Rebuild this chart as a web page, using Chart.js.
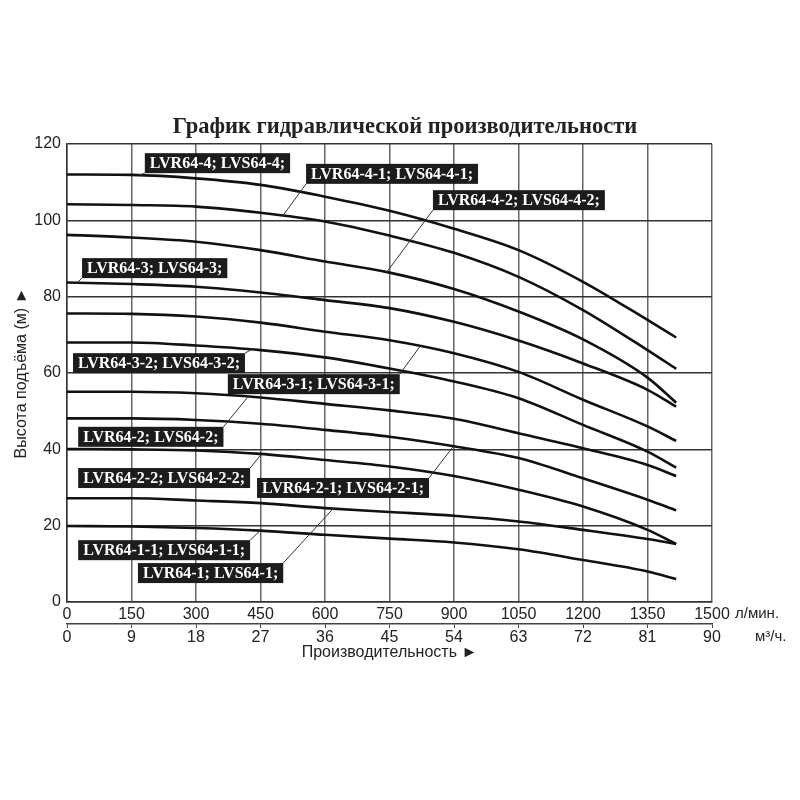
<!DOCTYPE html>
<html>
<head>
<meta charset="utf-8">
<script src="https://cdn.jsdelivr.net/npm/chart.js@4"></script>
<style>
  body { margin: 0; background: #fff; }
  #graf_hp { display: block; }
</style>
</head>
<body>
<canvas id="graf_hp" width="800" height="800"></canvas>
<script>
// Расход, л/мин (точки)
const flows = [0, 150, 300, 450, 600, 750, 900, 1050, 1200, 1350, 1416.7];

// Напор, м
const head_4   = [112, 111.9, 111, 109.3, 106.2, 102.5, 97.8, 92.2, 83.9, 73.9, 69.3];
const head_4_1 = [104.2, 104, 103.6, 102, 99.7, 96, 91.5, 85.2, 76.5, 66, 61.1];
const head_4_2 = [96.2, 95.5, 94.4, 92.2, 89.2, 86.3, 82, 76.1, 68.8, 58.8, 52.2];
const head_3   = [83.7, 83.3, 82.6, 81.1, 79.1, 77, 73.4, 68.5, 62.5, 55.6, 51.2];
const head_3_x = [75.6, 75.5, 74.8, 73.2, 70.8, 68.6, 65.2, 60.3, 53, 46, 42.2];
const head_3_2 = [68, 68, 67.2, 66, 64.1, 61.2, 57.8, 53.4, 46.4, 39.4, 35.2];
const head_3_1 = [55.1, 55.1, 54.7, 53.6, 51.9, 50.2, 48, 44.2, 40.3, 35.9, 33];
const head_2   = [48.1, 48.1, 47.7, 46.7, 45.1, 43.3, 40.8, 37.7, 32.4, 26.8, 24];
const head_2_2 = [40.1, 40, 39.7, 38.8, 37.2, 35.5, 33, 29.4, 25, 18.9, 15.2];
const head_2_1 = [27.2, 27.2, 26.6, 25.9, 24.6, 23.6, 22.6, 21.1, 18.9, 16.5, 15.2];
const head_1_1 = [19.9, 19.8, 19.4, 18.7, 17.6, 16.6, 15.6, 13.8, 11, 8, 6];

const curves = [head_4, head_4_1, head_4_2, head_3, head_3_x, head_3_2,
                head_3_1, head_2, head_2_2, head_2_1, head_1_1];

// Подписи моделей
const model_names = [
  'LVR64-4; LVS64-4;',
  'LVR64-4-1; LVS64-4-1;',
  'LVR64-4-2; LVS64-4-2;',
  'LVR64-3; LVS64-3;',
  'LVR64-3-2; LVS64-3-2;',
  'LVR64-3-1; LVS64-3-1;',
  'LVR64-2; LVS64-2;',
  'LVR64-2-2; LVS64-2-2;',
  'LVR64-2-1; LVS64-2-1;',
  'LVR64-1-1; LVS64-1-1;',
  'LVR64-1; LVS64-1;'
];
// левый верхний угол плашки (л/мин, м), угол выноски, точка на кривой (л/мин, м)
const tag_x   = [181, 556, 851, 35, 14, 374, 26, 26, 442, 26, 165];
const tag_y   = [117.6, 114.8, 107.9, 90.1, 65.2, 59.7, 45.9, 35.1, 32.5, 16.2, 10.2];
const tag_pin = ['bl', 'bl', 'bl', 'bl', 'tr', 'tr', 'tr', 'tr', 'tr', 'tr', 'tr'];
const tag_tx  = [168, 502, 744, 23, 430, 821, 419, 451, 898, 449, 619];
const tag_ty  = [111.8, 101.2, 86.5, 83.6, 66.2, 67, 53.5, 38.6, 40.7, 18.7, 24.5];

const chart_title = 'График гидравлической производительности';

const datasets = curves.map(function (h) {
    return {
        data: flows.map(function (f, i) { return { x: f, y: h[i] }; }),
        borderColor: '#111',
        borderWidth: 2.6,
        pointRadius: 0,
        fill: false,
        cubicInterpolationMode: 'monotone'
    };
});

// заголовок, плашки с названиями + выноски, единицы
const tagsPlugin = {
    id: 'tags',
    afterDatasetsDraw(chart) {
        const ctx = chart.ctx;
        const sx = chart.scales.x, sy = chart.scales.y;
        ctx.save();
        // заголовок
        ctx.font = "bold 22.5px 'Liberation Serif', serif";
        ctx.fillStyle = '#222';
        ctx.textAlign = 'center';
        ctx.textBaseline = 'middle';
        ctx.fillText(chart_title, 405, 127);

        ctx.textAlign = 'left';
        ctx.font = "bold 16px 'Liberation Serif', serif";
        model_names.forEach(function (name, i) {
            const left = sx.getPixelForValue(tag_x[i]);
            const top = sy.getPixelForValue(tag_y[i]);
            const w = ctx.measureText(name).width + 10;
            const h = 20;
            let px = left, py = top + h;
            if (tag_pin[i] === 'tr') { px = left + w; py = top; }
            ctx.strokeStyle = '#333';
            ctx.lineWidth = 1;
            ctx.beginPath();
            ctx.moveTo(px, py);
            ctx.lineTo(sx.getPixelForValue(tag_tx[i]), sy.getPixelForValue(tag_ty[i]));
            ctx.stroke();
            ctx.fillStyle = '#1c1c1c';
            ctx.fillRect(left, top, w, h);
            ctx.fillStyle = '#fff';
            ctx.fillText(name, left + 5, top + h / 2 + 1);
        });
        // единицы по оси X
        ctx.font = "15px 'Liberation Sans', Arial, sans-serif";
        ctx.fillStyle = '#222';
        const xr = sx.getPixelForValue(1500);
        ctx.fillText('л/мин.', xr + 23, sx.top + 12);
        const s2 = chart.scales.x2;
        ctx.fillText('м³/ч.', s2.getPixelForValue(90) + 43, s2.top + 13);
        ctx.restore();
    }
};

const tickFont = { family: "'Liberation Sans', Arial, sans-serif", size: 16 };
const plainTick = function (v) { return String(v); };

const config_hp = {
    type: 'line',
    data: { datasets: datasets },
    options: {
        responsive: false,
        animation: false,
        devicePixelRatio: 1,
        layout: { padding: { left: 0, right: 88, top: 144, bottom: 138 } },
        plugins: {
            legend: { display: false },
            tooltip: { enabled: false },
            title: { display: false }
        },
        scales: {
            x: {
                type: 'linear',
                position: 'bottom',
                weight: 0,
                min: 0,
                max: 1500,
                afterFit: function (s) { s.height = 22; },
                grid: { color: '#666', lineWidth: 1.5, drawTicks: false },
                border: { color: '#333', width: 1.5 },
                ticks: { stepSize: 150, color: '#222', font: tickFont, padding: 3, maxRotation: 0, callback: plainTick }
            },
            x2: {
                type: 'linear',
                position: 'bottom',
                weight: 1,
                min: 0,
                max: 90,
                afterFit: function (s) { s.height = 38; },
                grid: { drawOnChartArea: false, color: '#444', tickLength: 4 },
                border: { color: '#444', width: 1.5 },
                ticks: { stepSize: 9, color: '#222', font: tickFont, padding: 0, maxRotation: 0, callback: plainTick },
                title: {
                    display: true,
                    text: 'Производительность ►',
                    color: '#222',
                    font: { family: "'Liberation Sans', Arial, sans-serif", size: 16 },
                    padding: { top: 0, bottom: 0 }
                }
            },
            y: {
                type: 'linear',
                min: 0,
                max: 120,
                afterFit: function (s) { s.width = 67; },
                grid: { color: '#333', lineWidth: 1.5, drawTicks: false },
                border: { color: '#333', width: 1.5 },
                ticks: { stepSize: 20, color: '#222', font: tickFont, padding: 6 },
                title: {
                    display: true,
                    text: 'Высота подъёма (м) ►',
                    color: '#222',
                    font: { family: "'Liberation Sans', Arial, sans-serif", size: 16 },
                    padding: { top: 12, bottom: 0 }
                }
            }
        }
    },
    plugins: [tagsPlugin]
};

const chart_hp = new Chart(document.getElementById('graf_hp').getContext('2d'), config_hp);
</script>
</body>
</html>
